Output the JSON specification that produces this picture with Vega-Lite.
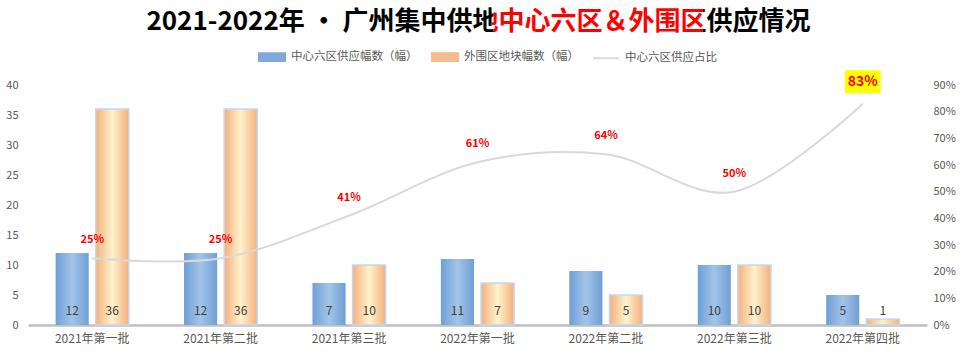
{
  "$schema": "https://vega.github.io/schema/vega-lite/v6.json",
  "width": 899,
  "height": 240,
  "autosize": {"type": "none"},
  "padding": {"left": 28, "top": 85, "right": 38, "bottom": 29},
  "background": "white",
  "config": {
    "font": "Noto Sans CJK SC",
    "view": {"stroke": null},
    "axis": {"labelOverlap": false},
    "axisY": {"tickCount": 9, "labelOverlap": false, "domain": false, "ticks": false, "grid": false, "labelColor": "#595959", "labelFontSize": 11},
    "axisRight": {"labelOverlap": false, "tickCount": 10}
  },
  "title": {
    "text": "2021-2022年 · 广州集中供地中心六区＆外围区供应情况",
    "fontSize": 26,
    "fontWeight": "bold",
    "font": "Noto Sans CJK SC",
    "anchor": "middle",
    "dx": 1,
    "offset": 8,
    "color": {"value": {"gradient": "linear", "x1": 0, "x2": 1, "y1": 0, "y2": 0,
      "stops": [
        {"offset": 0, "color": "#000000"},
        {"offset": 0.522, "color": "#000000"},
        {"offset": 0.522, "color": "#FF0000"},
        {"offset": 0.838, "color": "#FF0000"},
        {"offset": 0.838, "color": "#000000"},
        {"offset": 1, "color": "#000000"}
      ]}}
  },
  "datasets": {
    "bars": [
      {"batch": "2021年第一批", "series": "中心六区供应幅数（幅）", "count": 12},
      {"batch": "2021年第一批", "series": "外围区地块幅数（幅）", "count": 36},
      {"batch": "2021年第二批", "series": "中心六区供应幅数（幅）", "count": 12},
      {"batch": "2021年第二批", "series": "外围区地块幅数（幅）", "count": 36},
      {"batch": "2021年第三批", "series": "中心六区供应幅数（幅）", "count": 7},
      {"batch": "2021年第三批", "series": "外围区地块幅数（幅）", "count": 10},
      {"batch": "2022年第一批", "series": "中心六区供应幅数（幅）", "count": 11},
      {"batch": "2022年第一批", "series": "外围区地块幅数（幅）", "count": 7},
      {"batch": "2022年第二批", "series": "中心六区供应幅数（幅）", "count": 9},
      {"batch": "2022年第二批", "series": "外围区地块幅数（幅）", "count": 5},
      {"batch": "2022年第三批", "series": "中心六区供应幅数（幅）", "count": 10},
      {"batch": "2022年第三批", "series": "外围区地块幅数（幅）", "count": 10},
      {"batch": "2022年第四批", "series": "中心六区供应幅数（幅）", "count": 5},
      {"batch": "2022年第四批", "series": "外围区地块幅数（幅）", "count": 1}
    ],
    "ratio": [
      {"batch": "2021年第一批", "pct": 0.25},
      {"batch": "2021年第二批", "pct": 0.25},
      {"batch": "2021年第三批", "pct": 0.41},
      {"batch": "2022年第一批", "pct": 0.61},
      {"batch": "2022年第二批", "pct": 0.64},
      {"batch": "2022年第三批", "pct": 0.50},
      {"batch": "2022年第四批", "pct": 0.83}
    ]
  },
  "resolve": {"scale": {"y": "independent"}},
  "layer": [
    {
      "data": {"name": "bars"},
      "layer": [
        {
          "transform": [{"filter": "datum.series === '中心六区供应幅数（幅）'"}],
          "mark": {"type": "bar", "color": {"gradient": "linear", "x1": 0, "x2": 1, "y1": 0, "y2": 0,
            "stops": [
              {"offset": 0, "color": "#6F9FD6"},
              {"offset": 0.5, "color": "#A3C4E8"},
              {"offset": 1, "color": "#6F9FD6"}
            ]}},
          "encoding": {
            "x": {"field": "batch", "type": "nominal", "title": null,
              "sort": ["2021年第一批", "2021年第二批", "2021年第三批", "2022年第一批", "2022年第二批", "2022年第三批", "2022年第四批"],
              "scale": {"paddingInner": 0.43, "paddingOuter": 0.215},
              "axis": {"labelAngle": 0, "ticks": false, "domainColor": "#BFBFBF", "domainWidth": 2.5, "labelFontSize": 12, "labelColor": "#595959", "labelPadding": 8, "grid": false}},
            "xOffset": {"field": "series", "type": "nominal", "scale": {"domain": ["中心六区供应幅数（幅）", "外围区地块幅数（幅）"], "paddingInner": 0.175, "paddingOuter": 0}},
            "y": {"field": "count", "type": "quantitative", "title": null,
              "scale": {"domain": [0, 40], "nice": false},
              "axis": {"values": [0, 5, 10, 15, 20, 25, 30, 35, 40], "tickCount": 9, "labelOverlap": false, "labelPadding": 10}}
          }
        },
        {
          "transform": [{"filter": "datum.series === '外围区地块幅数（幅）'"}],
          "mark": {"type": "bar", "stroke": "#C5D8EF", "strokeWidth": 1.5, "color": {"gradient": "linear", "x1": 0, "x2": 1, "y1": 0, "y2": 0,
            "stops": [
              {"offset": 0, "color": "#F4B07C"},
              {"offset": 0.5, "color": "#FFF2CC"},
              {"offset": 1, "color": "#F4B07C"}
            ]}},
          "encoding": {
            "x": {"field": "batch", "type": "nominal", "title": null,
              "sort": ["2021年第一批", "2021年第二批", "2021年第三批", "2022年第一批", "2022年第二批", "2022年第三批", "2022年第四批"]},
            "xOffset": {"field": "series", "type": "nominal"},
            "y": {"field": "count", "type": "quantitative", "title": null,
              "axis": {"values": [0, 5, 10, 15, 20, 25, 30, 35, 40], "tickCount": 9, "labelOverlap": false, "labelPadding": 10}}
          }
        },
        {
          "mark": {"type": "text", "baseline": "middle", "dy": -14, "fontSize": 12, "color": "#404040"},
          "encoding": {
            "x": {"field": "batch", "type": "nominal", "title": null,
              "sort": ["2021年第一批", "2021年第二批", "2021年第三批", "2022年第一批", "2022年第二批", "2022年第三批", "2022年第四批"]},
            "xOffset": {"field": "series", "type": "nominal"},
            "y": {"datum": 0, "type": "quantitative", "title": null,
              "axis": {"values": [0, 5, 10, 15, 20, 25, 30, 35, 40], "tickCount": 9, "labelOverlap": false, "labelPadding": 10}},
            "text": {"field": "count", "type": "quantitative"}
          }
        }
      ]
    },
    {
      "data": {"name": "ratio"},
      "layer": [
        {
          "mark": {"type": "line", "interpolate": "cardinal", "strokeWidth": 2},
          "encoding": {
            "x": {"field": "batch", "type": "nominal", "title": null,
              "sort": ["2021年第一批", "2021年第二批", "2021年第三批", "2022年第一批", "2022年第二批", "2022年第三批", "2022年第四批"]},
            "y": {"field": "pct", "type": "quantitative", "title": null,
              "scale": {"domain": [0, 0.9], "nice": false},
              "axis": {"orient": "right", "format": ".0%", "values": [0, 0.1, 0.2, 0.3, 0.4, 0.5, 0.6, 0.7, 0.8, 0.9], "tickCount": 10, "labelOverlap": false, "labelSeparation": 0, "labelBound": false, "labelPadding": 6}},
            "color": {"datum": "中心六区供应占比", "type": "nominal",
              "scale": {"domain": ["中心六区供应幅数（幅）", "外围区地块幅数（幅）", "中心六区供应占比"], "range": ["#7EA9DA", "#F6BC8E", "#D9D9D9"]},
              "legend": {
                "title": null, "orient": "none", "direction": "horizontal",
                "legendX": 230, "legendY": -42,
                "labelFontSize": 11.5, "labelColor": "#595959", "labelOffset": 5,
                "columnPadding": 10, "symbolSize": 676,
                "encoding": {"symbols": {
                  "shape": {"value": {"expr": "datum.value === '中心六区供应占比' ? 'M-1,0H1' : 'M-1,-0.3H1V0.3H-1Z'"}},
                  "fill": {"value": {"expr": "datum.value === '中心六区供应幅数（幅）' ? '#7EA9DA' : (datum.value === '外围区地块幅数（幅）' ? '#F6BC8E' : 'transparent')"}},
                  "stroke": {"value": {"expr": "datum.value === '中心六区供应占比' ? '#D9D9D9' : 'transparent'"}},
                  "strokeWidth": {"value": 2},
                  "opacity": {"value": 1}
                }}
              }}
          }
        },
        {
          "transform": [{"filter": "datum.batch === '2022年第四批'"}],
          "mark": {"type": "point", "shape": "M-1,-0.64H1V0.64H-1Z", "size": 1296, "filled": true, "color": "#FFFF00", "opacity": 1, "yOffset": -22},
          "encoding": {
            "x": {"field": "batch", "type": "nominal", "title": null,
              "sort": ["2021年第一批", "2021年第二批", "2021年第三批", "2022年第一批", "2022年第二批", "2022年第三批", "2022年第四批"]},
            "y": {"field": "pct", "type": "quantitative", "title": null,
              "axis": {"orient": "right", "format": ".0%", "values": [0, 0.1, 0.2, 0.3, 0.4, 0.5, 0.6, 0.7, 0.8, 0.9], "tickCount": 10, "labelOverlap": false, "labelSeparation": 0, "labelBound": false, "labelPadding": 6}}
          }
        },
        {
          "transform": [{"filter": "datum.batch !== '2022年第四批'"}],
          "mark": {"type": "text", "baseline": "middle", "dy": -18, "fontSize": 11, "fontWeight": "bold", "color": "#FF0000"},
          "encoding": {
            "x": {"field": "batch", "type": "nominal", "title": null,
              "sort": ["2021年第一批", "2021年第二批", "2021年第三批", "2022年第一批", "2022年第二批", "2022年第三批", "2022年第四批"]},
            "y": {"field": "pct", "type": "quantitative", "title": null,
              "axis": {"orient": "right", "format": ".0%", "values": [0, 0.1, 0.2, 0.3, 0.4, 0.5, 0.6, 0.7, 0.8, 0.9], "tickCount": 10, "labelOverlap": false, "labelSeparation": 0, "labelBound": false, "labelPadding": 6}},
            "text": {"field": "pct", "type": "quantitative", "format": ".0%"}
          }
        },
        {
          "transform": [{"filter": "datum.batch === '2022年第四批'"}],
          "mark": {"type": "text", "baseline": "middle", "dy": -22, "fontSize": 14, "fontWeight": "bold", "color": "#FF0000"},
          "encoding": {
            "x": {"field": "batch", "type": "nominal", "title": null,
              "sort": ["2021年第一批", "2021年第二批", "2021年第三批", "2022年第一批", "2022年第二批", "2022年第三批", "2022年第四批"]},
            "y": {"field": "pct", "type": "quantitative", "title": null,
              "axis": {"orient": "right", "format": ".0%", "values": [0, 0.1, 0.2, 0.3, 0.4, 0.5, 0.6, 0.7, 0.8, 0.9], "tickCount": 10, "labelOverlap": false, "labelSeparation": 0, "labelBound": false, "labelPadding": 6}},
            "text": {"field": "pct", "type": "quantitative", "format": ".0%"}
          }
        }
      ]
    }
  ]
}
